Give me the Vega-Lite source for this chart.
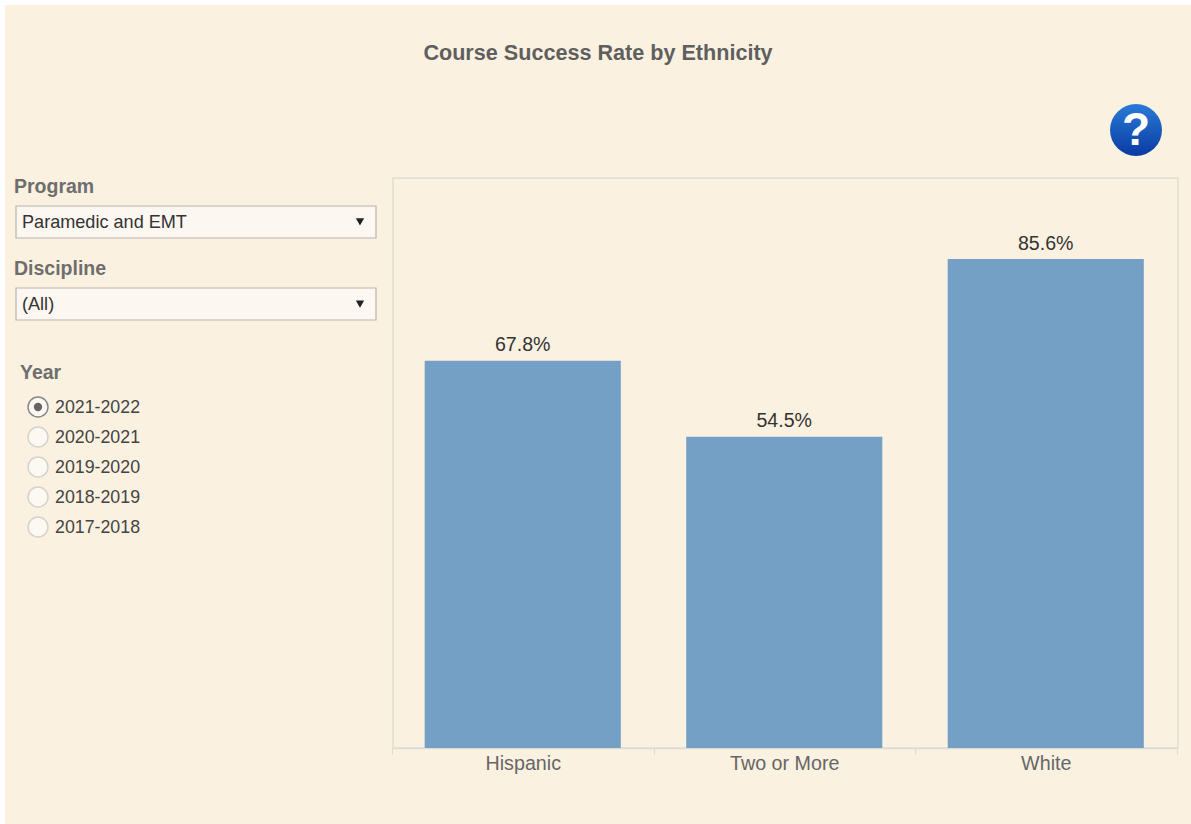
{
  "$schema": "https://vega.github.io/schema/vega-lite/v6.json",
  "width": 1191,
  "height": 824,
  "autosize": {"type": "fit", "contains": "padding"},
  "padding": {"left": 5, "top": 5, "right": 0, "bottom": 0},
  "background": "#ffffff",
  "title": {"text": "Course Success Rate by Ethnicity", "anchor": "middle", "frame": "group", "font": "Liberation Sans", "fontSize": 21.6, "fontWeight": "bold", "color": "#5f5f5f", "offset": -60},
  "config": {"view": {"fill": "#FBF1E0", "stroke": null}, "text": {"font": "Liberation Sans"}},
  "resolve": {"scale": {"x": "independent", "y": "independent"}, "axis": {"x": "independent", "y": "independent"}},
  "layer": [
    {
      "data": {"values": [{"top": 0.998, "bottom": 0}]},
      "mark": {"type": "rect", "fill": null, "stroke": "#E0DDD6", "strokeWidth": 1.5},
      "encoding": {
        "x": {"value": 388},
        "x2": {"value": 1173},
        "y": {"field": "top", "type": "quantitative", "scale": {"domain": [0, 0.998], "range": [743, 173], "nice": false}, "axis": null},
        "y2": {"field": "bottom"}
      }
    },
    {
      "data": {"values": [
        {"Ethnicity": "Hispanic", "SuccessRate": 0.678},
        {"Ethnicity": "Two or More", "SuccessRate": 0.545},
        {"Ethnicity": "White", "SuccessRate": 0.856}
      ]},
      "encoding": {
        "x": {"field": "Ethnicity", "type": "nominal", "sort": null,
          "scale": {"domain": ["Hispanic", "Two or More", "White"], "range": [387, 1171.5], "paddingInner": 0, "paddingOuter": 0},
          "axis": {"title": null, "orient": "bottom", "offset": -76, "labelAngle": 0, "tickBand": "extent", "tickSize": 6, "tickColor": "#DEDBD6", "domainColor": "#DEDBD6", "domainWidth": 1.5, "labelFont": "Liberation Sans", "labelFontSize": 19.7, "labelColor": "#666666", "labelPadding": -1}},
        "y": {"field": "SuccessRate", "type": "quantitative", "scale": {"domain": [0, 0.998], "range": [743, 173], "nice": false}, "axis": null}
      },
      "layer": [
        {"mark": {"type": "bar", "fill": "#75A0C6", "width": {"band": 0.75}}},
        {"mark": {"type": "text", "baseline": "bottom", "dy": -5.5, "fontSize": 19.6, "fill": "#333333"},
         "encoding": {"text": {"field": "SuccessRate", "type": "quantitative", "format": ".1%"}}}
      ]
    },
    {
      "data": {"values": [
        {"control": "Program", "choice": "Paramedic and EMT"},
        {"control": "Discipline", "choice": "(All)"}
      ]},
      "encoding": {
        "y": {"field": "control", "type": "nominal", "sort": null,
          "scale": {"domain": ["Program", "Discipline"], "range": [201, 315], "paddingInner": 0.61, "paddingOuter": 0},
          "axis": null}
      },
      "layer": [
        {"mark": {"type": "rect", "fill": "#FCF7F0", "stroke": "#B8B4AC", "strokeWidth": 1.2},
         "encoding": {"x": {"value": 11}, "x2": {"value": 371}}},
        {"mark": {"type": "text", "align": "left", "baseline": "middle", "dy": 1, "fontSize": 18.1, "fill": "#333333"},
         "encoding": {"x": {"value": 17}, "text": {"field": "choice"}}},
        {"mark": {"type": "text", "align": "left", "baseline": "middle", "dy": -35, "fontSize": 19.5, "fontWeight": "bold", "fill": "#6e6e6e"},
         "encoding": {"x": {"value": 9}, "text": {"field": "control"}}},
        {"mark": {"type": "point", "shape": "triangle-down", "filled": true, "fill": "#222222", "opacity": 1, "size": 70},
         "encoding": {"x": {"value": 355}}}
      ]
    },
    {
      "data": {"values": [
        {"year": "2021-2022", "selected": true},
        {"year": "2020-2021", "selected": false},
        {"year": "2019-2020", "selected": false},
        {"year": "2018-2019", "selected": false},
        {"year": "2017-2018", "selected": false}
      ]},
      "encoding": {
        "y": {"field": "year", "type": "nominal", "sort": null,
          "scale": {"type": "point", "domain": ["Year", "2021-2022", "2020-2021", "2019-2020", "2018-2019", "2017-2018"], "range": [372, 522], "padding": 0},
          "axis": null}
      },
      "layer": [
        {"mark": {"type": "point", "filled": true, "fill": "#FCF8F2", "opacity": 1, "strokeWidth": 1.5, "size": 400, "shape": "circle"},
         "encoding": {"x": {"value": 33},
           "stroke": {"field": "selected", "type": "nominal", "scale": {"domain": [true, false], "range": ["#888888", "#D5D2CD"]}, "legend": null}}},
        {"transform": [{"filter": "datum.selected"}],
         "mark": {"type": "point", "filled": true, "fill": "#666666", "opacity": 1, "size": 70, "shape": "circle"},
         "encoding": {"x": {"value": 33}}},
        {"mark": {"type": "text", "align": "left", "baseline": "middle", "dy": 1, "fontSize": 17.8, "fill": "#444444"},
         "encoding": {"x": {"value": 50}, "text": {"field": "year"}}}
      ]
    },
    {
      "data": {"values": [{"heading": "Year"}]},
      "mark": {"type": "text", "align": "left", "baseline": "middle", "fontSize": 19.5, "fontWeight": "bold", "fill": "#6e6e6e"},
      "encoding": {
        "x": {"value": 15},
        "y": {"value": 368},
        "text": {"field": "heading"}
      }
    },
    {
      "data": {"values": [{"help": "?"}]},
      "layer": [
        {"mark": {"type": "point", "shape": "circle", "filled": true, "opacity": 1, "size": 2700,
           "fill": {"gradient": "linear", "x1": 0, "y1": 0, "x2": 0, "y2": 1, "stops": [{"offset": 0, "color": "#2A7AD8"}, {"offset": 1, "color": "#0A3BA2"}]}},
         "encoding": {"x": {"value": 1131}, "y": {"value": 125}}},
        {"mark": {"type": "text", "align": "center", "baseline": "middle", "fontSize": 46, "fontWeight": "bold", "fill": "#ffffff"},
         "encoding": {"x": {"value": 1131}, "y": {"value": 126}, "text": {"field": "help"}}}
      ]
    }
  ]
}
